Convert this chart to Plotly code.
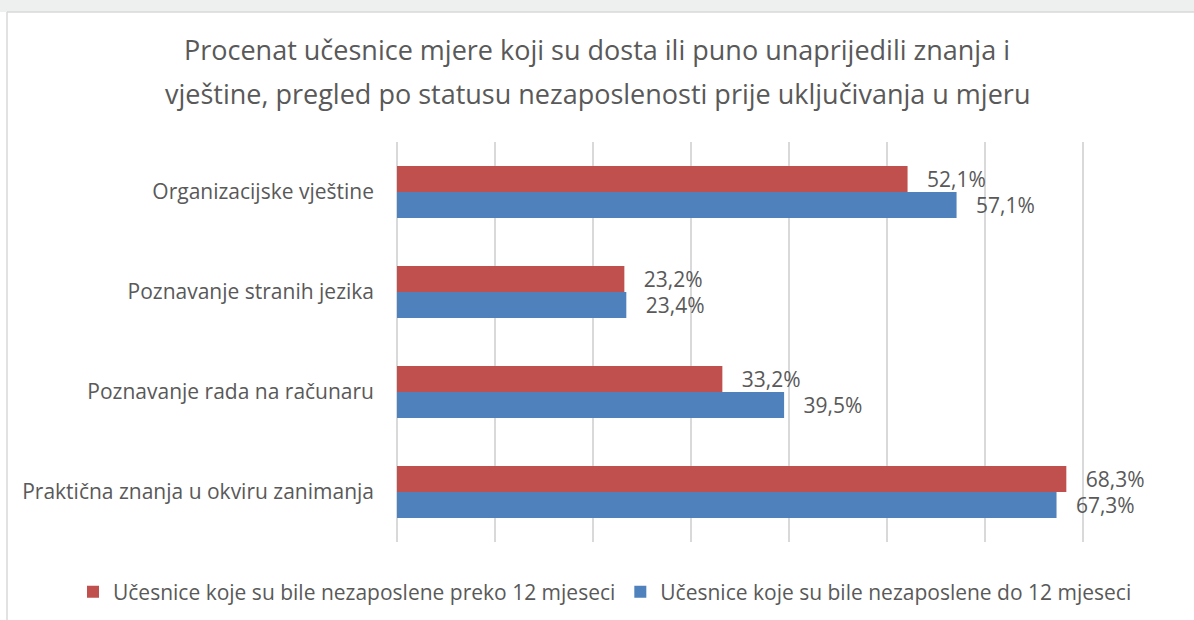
import plotly.graph_objects as go

categories = [
    "Organizacijske vještine",
    "Poznavanje stranih jezika",
    "Poznavanje rada na računaru",
    "Praktična znanja u okviru zanimanja",
]
over12 = [0.521, 0.232, 0.332, 0.683]
upto12 = [0.571, 0.234, 0.395, 0.673]
name_over = "Učesnice koje su bile nezaposlene preko 12 mjeseci"
name_upto = "Učesnice koje su bile nezaposlene do 12 mjeseci"
title_lines = [
    "Procenat učesnice mjere koji su dosta ili puno unaprijedili znanja i",
    "vještine, pregled po statusu nezaposlenosti prije uključivanja u mjeru",
]

FONT = "Open Sans"
TXT = "#595959"
PAD = "\u00a0\u00a0\u00a0"

fig = go.Figure()
fig.add_trace(go.Bar(
    y=categories, x=upto12, orientation="h", name=name_upto,
    marker=dict(color="#4f81bd", line=dict(width=0)),
    texttemplate=PAD + "%{x:.1%}", textposition="outside", constraintext="none",
    textfont=dict(size=21, color=TXT, family=FONT), cliponaxis=False,
))
fig.add_trace(go.Bar(
    y=categories, x=over12, orientation="h", name=name_over,
    marker=dict(color="#c0504d", line=dict(width=0)),
    texttemplate=PAD + "%{x:.1%}", textposition="outside", constraintext="none",
    textfont=dict(size=21, color=TXT, family=FONT), cliponaxis=False,
))

L, R, T, B = 397, 13, 142, 78
W, H = 1194, 620
pw, ph = W - L - R, H - T - B

def px(x):
    return (x - L) / pw

def py(y):
    return (H - B - y) / ph

annotations = [
    dict(text=t, xref="paper", yref="paper", x=px(597), y=py(yy),
         xanchor="center", yanchor="middle", showarrow=False,
         font=dict(size=27, color=TXT, family=FONT))
    for t, yy in zip(title_lines, [49, 94])
]

fig.update_layout(
    width=W, height=H,
    margin=dict(l=L, r=R, t=T, b=B, autoexpand=False),
    paper_bgcolor="white", plot_bgcolor="white",
    separators=", ",
    barmode="group", bargap=0.48, bargroupgap=0,
    font=dict(family=FONT, color=TXT, size=21),
    annotations=annotations,
    xaxis=dict(range=[0, 0.80001], dtick=0.1, showticklabels=False,
               showgrid=True, gridcolor="#d9d9d9", gridwidth=1.5,
               zeroline=True, zerolinecolor="#d9d9d9", zerolinewidth=1.5,
               showline=False, fixedrange=True),
    yaxis=dict(categoryorder="array", categoryarray=categories[::-1],
               showgrid=False, zeroline=False, showline=False,
               tickfont=dict(size=21, color=TXT, family=FONT),
               ticks="", ticklen=0, ticklabelstandoff=22, fixedrange=True),
    legend=dict(orientation="h", traceorder="reversed",
                x=px(73), xref="paper", xanchor="left",
                y=py(592), yref="paper", yanchor="middle",
                font=dict(size=21, color=TXT, family=FONT),
                itemwidth=30),
    showlegend=True,
    shapes=[
        dict(type="rect", xref="paper", yref="paper",
             x0=px(0), x1=px(W), y0=py(12), y1=py(0),
             fillcolor="#edf0ee", line=dict(width=0), layer="below"),
        dict(type="line", xref="paper", yref="paper",
             x0=px(7), x1=px(W), y0=py(12), y1=py(12),
             line=dict(color="#d9d9d9", width=1.5)),
        dict(type="line", xref="paper", yref="paper",
             x0=px(7), x1=px(7), y0=py(12), y1=py(H),
             line=dict(color="#d9d9d9", width=1.5)),
    ],
)

fig.write_html("out.html", config={"displayModeBar": False},
               post_script="document.body.style.margin='0';")
